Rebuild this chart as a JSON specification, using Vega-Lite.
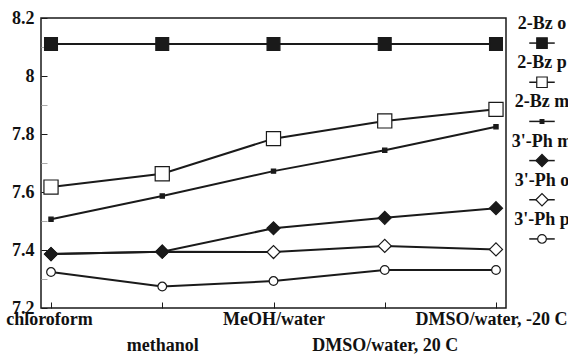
{
  "$schema": "https://vega.github.io/schema/vega-lite/v6.json",
  "padding": {"left": 4, "top": 8, "right": 0, "bottom": 0},
  "background": "white",
  "bounds": "flush",
  "spacing": 16,
  "config": {
    "font": "Liberation Serif",
    "view": {"stroke": "#1a1a1a", "strokeWidth": 1.5},
    "axis": {"labelFont": "Liberation Serif", "labelFontWeight": "bold", "labelFontSize": 18, "labelColor": "#111", "tickColor": "#1a1a1a", "domain": false, "grid": false, "title": null}
  },
  "datasets": {
    "pts": [
      {"series": "2-Bz o", "solvent": "chloroform", "value": 8.11},
      {"series": "2-Bz o", "solvent": "methanol", "value": 8.11},
      {"series": "2-Bz o", "solvent": "MeOH/water", "value": 8.11},
      {"series": "2-Bz o", "solvent": "DMSO/water, 20 C", "value": 8.11},
      {"series": "2-Bz o", "solvent": "DMSO/water, -20 C", "value": 8.11},
      {"series": "2-Bz p", "solvent": "chloroform", "value": 7.617},
      {"series": "2-Bz p", "solvent": "methanol", "value": 7.663},
      {"series": "2-Bz p", "solvent": "MeOH/water", "value": 7.784},
      {"series": "2-Bz p", "solvent": "DMSO/water, 20 C", "value": 7.845},
      {"series": "2-Bz p", "solvent": "DMSO/water, -20 C", "value": 7.885},
      {"series": "2-Bz m", "solvent": "chloroform", "value": 7.506},
      {"series": "2-Bz m", "solvent": "methanol", "value": 7.586},
      {"series": "2-Bz m", "solvent": "MeOH/water", "value": 7.672},
      {"series": "2-Bz m", "solvent": "DMSO/water, 20 C", "value": 7.744},
      {"series": "2-Bz m", "solvent": "DMSO/water, -20 C", "value": 7.825},
      {"series": "3'-Ph o", "solvent": "chloroform", "value": 7.386},
      {"series": "3'-Ph o", "solvent": "methanol", "value": 7.394},
      {"series": "3'-Ph o", "solvent": "MeOH/water", "value": 7.393},
      {"series": "3'-Ph o", "solvent": "DMSO/water, 20 C", "value": 7.414},
      {"series": "3'-Ph o", "solvent": "DMSO/water, -20 C", "value": 7.402},
      {"series": "3'-Ph m", "solvent": "chloroform", "value": 7.386},
      {"series": "3'-Ph m", "solvent": "methanol", "value": 7.394},
      {"series": "3'-Ph m", "solvent": "MeOH/water", "value": 7.475},
      {"series": "3'-Ph m", "solvent": "DMSO/water, 20 C", "value": 7.511},
      {"series": "3'-Ph m", "solvent": "DMSO/water, -20 C", "value": 7.544},
      {"series": "3'-Ph p", "solvent": "chloroform", "value": 7.324},
      {"series": "3'-Ph p", "solvent": "methanol", "value": 7.274},
      {"series": "3'-Ph p", "solvent": "MeOH/water", "value": 7.293},
      {"series": "3'-Ph p", "solvent": "DMSO/water, 20 C", "value": 7.331},
      {"series": "3'-Ph p", "solvent": "DMSO/water, -20 C", "value": 7.331}
    ],
    "leg": [
      {"series": "2-Bz o"},
      {"series": "2-Bz p"},
      {"series": "2-Bz m"},
      {"series": "3'-Ph m"},
      {"series": "3'-Ph o"},
      {"series": "3'-Ph p"}
    ]
  },
  "resolve": {"scale": {"x": "independent", "y": "independent"}},
  "hconcat": [
    {
      "width": 465,
      "height": 290,
      "data": {"name": "pts"},
      "encoding": {
        "x": {"field": "solvent", "type": "nominal", "sort": ["chloroform", "methanol", "MeOH/water", "DMSO/water, 20 C", "DMSO/water, -20 C"],
          "scale": {"type": "point", "padding": 0.09},
          "axis": {"labelAngle": 0, "labelBaseline": "top", "labelLineHeight": 26, "tickSize": -6, "labelPadding": 8,
            "labelOffset": {"expr": "datum.value == 'chloroform' ? -2 : (datum.value == 'DMSO/water, -20 C' ? -5 : 0)"},
            "labelExpr": "(datum.value == 'methanol' || datum.value == 'DMSO/water, 20 C') ? ['', datum.label] : datum.label"}},
        "y": {"field": "value", "type": "quantitative", "scale": {"domain": [7.2, 8.2], "nice": false, "zero": false},
          "axis": {"values": [7.2, 7.3, 7.4, 7.5, 7.6, 7.7, 7.8, 7.9, 8.0, 8.1, 8.2], "format": "~g", "tickSize": -6, "labelPadding": 13,
            "labelExpr": "(round(datum.value * 10) % 2 == 0) ? datum.label : ''",
            "tickColor": {"expr": "(round(datum.value * 10) % 2 == 0) ? '#1a1a1a' : '#aaaaaa'"}}}
      },
      "layer": [
        {"mark": {"type": "line", "color": "#1a1a1a", "strokeWidth": 2}, "encoding": {"detail": {"field": "series"}}},
        {"mark": {"type": "point", "filled": true, "stroke": "#1a1a1a", "strokeWidth": 1.2, "opacity": 1},
          "encoding": {
            "shape": {"field": "series", "type": "nominal", "legend": null,
              "scale": {"domain": ["2-Bz o", "2-Bz p", "2-Bz m", "3'-Ph m", "3'-Ph o", "3'-Ph p"], "range": ["square", "square", "square", "diamond", "diamond", "circle"]}},
            "fill": {"field": "series", "type": "nominal", "legend": null,
              "scale": {"domain": ["2-Bz o", "2-Bz p", "2-Bz m", "3'-Ph m", "3'-Ph o", "3'-Ph p"], "range": ["#1a1a1a", "white", "#1a1a1a", "#1a1a1a", "white", "white"]}},
            "size": {"condition": [
              {"test": "datum.series == '2-Bz o'", "value": 165},
              {"test": "datum.series == '2-Bz p'", "value": 200},
              {"test": "datum.series == '2-Bz m'", "value": 18},
              {"test": "datum.series == '3\\'-Ph p'", "value": 75}
            ], "value": 170}
          }}
      ]
    },
    {
      "width": 40,
      "height": 246,
      "view": {"stroke": null},
      "data": {"name": "leg"},
      "encoding": {
        "y": {"field": "series", "type": "nominal", "sort": ["2-Bz o", "2-Bz p", "2-Bz m", "3'-Ph m", "3'-Ph o", "3'-Ph p"],
          "scale": {"type": "point", "padding": 0.64}, "axis": null}
      },
      "layer": [
        {"mark": {"type": "point", "shape": "M-1,0H1", "size": 650, "stroke": "#1a1a1a", "strokeWidth": 1.5, "filled": false, "opacity": 1}},
        {"mark": {"type": "point", "filled": true, "stroke": "#1a1a1a", "strokeWidth": 1.2, "opacity": 1},
          "encoding": {
            "shape": {"field": "series", "type": "nominal", "legend": null},
            "fill": {"field": "series", "type": "nominal", "legend": null},
            "size": {"condition": [
              {"test": "datum.series == '2-Bz o'", "value": 110},
              {"test": "datum.series == '2-Bz p'", "value": 110},
              {"test": "datum.series == '2-Bz m'", "value": 14},
              {"test": "datum.series == '3\\'-Ph p'", "value": 75}
            ], "value": 150}
          }},
        {"mark": {"type": "text", "dy": -19, "font": "Liberation Serif", "fontWeight": "bold", "fontSize": 18, "color": "#111"},
          "encoding": {"text": {"field": "series"}}}
      ]
    }
  ]
}
